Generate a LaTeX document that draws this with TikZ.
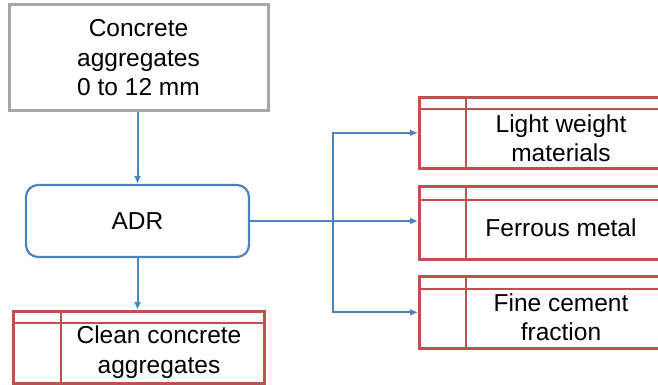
\documentclass[tikz,border=0pt]{standalone}
\usepackage{fontspec}
\setmainfont{Liberation Sans}
\usetikzlibrary{arrows.meta,calc}
\definecolor{bluec}{HTML}{4F81BD}
\definecolor{redc}{HTML}{C0504D}
\definecolor{grayc}{HTML}{A6A6A6}
\tikzset{
  txt/.style={align=center,font=\fontsize{24.5}{29.5}\selectfont,inner sep=0pt},
  graybox/.style={draw=grayc,line width=3pt,minimum width=259pt,minimum height=106pt,txt},
  adrbox/.style={draw=bluec,line width=2.2pt,rounded corners=12pt,minimum width=223pt,minimum height=72pt,txt},
  redbox/.style={draw=redc,line width=2.6pt,anchor=north west,inner sep=0pt},
  redline/.style={draw=redc,line width=2.6pt},
  conn/.style={draw=bluec,line width=2pt,-{Latex[length=8pt,width=7pt]}},
  plain/.style={draw=bluec,line width=2pt}
}
\begin{document}
\begin{tikzpicture}[x=1pt,y=-1pt]
\useasboundingbox (0,0) rectangle (658,385);
% top box
\node[graybox] (src) at (138.5,58) {Concrete\\aggregates\\0 to 12 mm};
% ADR
\node[adrbox] (adr) at (137.5,221) {ADR};
% clean box
\node[redbox,minimum width=251pt,minimum height=72pt] (clean) at (12,310) {};
\draw[redline] ($(clean.north west)+(0,13)$) -- ($(clean.north east)+(0,13)$);
\draw[redline] ($(clean.north west)+(49,0)$) -- ($(clean.south west)+(49,0)$);
\node[txt] (cleant) at (159,352) {Clean concrete\\aggregates};
% right boxes
\node[redbox,minimum width=246pt,minimum height=71pt] (lw) at (418,96) {};
\draw[redline] ($(lw.north west)+(0,13)$) -- ($(lw.north east)+(0,13)$);
\draw[redline] ($(lw.north west)+(48,0)$) -- ($(lw.south west)+(48,0)$);
\node[txt] (lwt) at (561,138) {Light weight\\materials};
\node[redbox,minimum width=246pt,minimum height=73pt] (fm) at (418,185) {};
\draw[redline] ($(fm.north west)+(0,15)$) -- ($(fm.north east)+(0,15)$);
\draw[redline] ($(fm.north west)+(48,0)$) -- ($(fm.south west)+(48,0)$);
\node[txt] (fmt) at (561,228) {Ferrous metal};
\node[redbox,minimum width=246pt,minimum height=72pt] (fc) at (418,275) {};
\draw[redline] ($(fc.north west)+(0,14)$) -- ($(fc.north east)+(0,14)$);
\draw[redline] ($(fc.north west)+(48,0)$) -- ($(fc.south west)+(48,0)$);
\node[txt] (fct) at (561,317) {Fine cement\\fraction};
% connectors
\draw[conn] (src.south -| adr.north) -- (adr.north);
\draw[conn] (adr.south) -- (adr.south |- clean.north);
\coordinate (br) at (333,221);
\draw[conn] (adr.east) -- (adr.east -| fm.west);
\draw[conn] (br) |- (lw.west);
\draw[conn] (br) |- (fc.west);
\end{tikzpicture}
\end{document}
